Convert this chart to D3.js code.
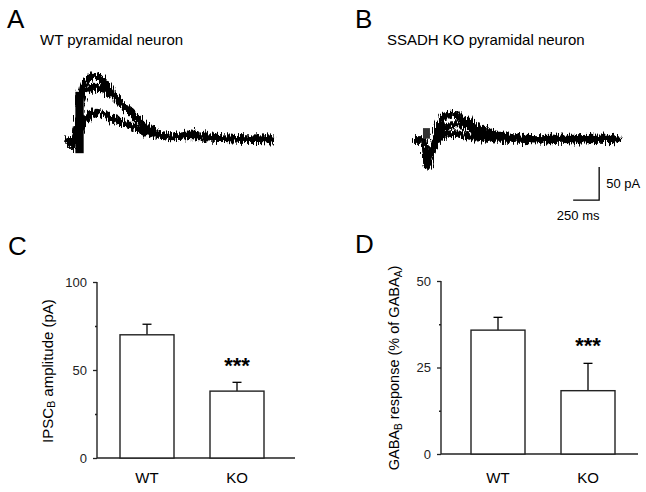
<!DOCTYPE html>
<html><head><meta charset="utf-8">
<script src="https://cdn.jsdelivr.net/npm/d3@7"></script>
<style>
body{margin:0;background:#fff}
svg{display:block;font-family:"Liberation Sans",Arial,Helvetica,sans-serif}
</style>
</head><body>
<svg id="c" width="646" height="492"></svg>
<script>
// ---------- DATA ----------
// Panel A: WT traces (time ms, current pA relative to baseline)
const timesA = [0, 40, 60, 85, 170, 230, 280, 330, 375, 420, 470, 540, 610, 680, 760, 830, 900, 1050, 1190, 1380, 1580, 1770, 2000];
const traceA1 = [0, -2, -10, 0, 83, 95, 98, 95, 86, 76, 65, 53, 44, 33, 21, 15, 9, 6, 9, 5, 3, 1.5, 1.5];
const traceA2 = [0, -2, -10, 0, 71, 79, 80, 79, 75, 71, 64, 53, 44, 33, 21, 15, 9, 5, 8, 4, 2, 1, 1];
const traceA3 = [0, -2, -10, 0, 26, 38, 42, 41, 38, 35, 31, 27, 23, 18, 12, 9, 7, 5, 7, 3, 2, 1, 0];
const artifactA = [90, 170, -20, 73];   // t start, t end, pA min, pA max

// Panel B: SSADH KO traces
const timesB = [0, 96, 110, 130, 150, 183, 212, 240, 288, 337, 375, 433, 500, 567, 625, 692, 760, 885, 1029, 1221, 1413, 1606, 1798, 2000];
const traceB1 = [0, 0, -10, -40, -36, -15, 5, 18, 33, 38, 39, 36, 30, 24, 20, 15, 11, 5, 3, 2, 3, 2, 3, 1];
const traceB2 = [0, 0, -10, -38, -33, -18, -3, 8, 17, 21, 23, 23, 22, 17, 11, 7, 5, 3, 2, 1, 2, 1, 2, 1];
const traceB3 = [0, 0, -8, -35, -30, -18, -8, 0, 6, 9, 10, 9, 7, 5, 3, 3, 2, 1, 1, 0, 1, 0, 1, 0];
const artifactB = [96, 163, 2, 18];

// Scale bar
const scaleBarPA = 50, scaleBarMS = 250;

// Panel C
const groups = ["WT", "KO"];
const ipscMean = [70, 38];
const ipscSem = [6, 5];
const ipscTicks = [0, 50, 100];
const ipscMinor = [25, 75];

// Panel D
const gabaMean = [35.8, 18.3];
const gabaSem = [3.7, 7.9];
const gabaTicks = [0, 25, 50];
const gabaMinor = [12.5, 37.5];

// ---------- DRAW ----------
const svg = d3.select("#c");
const defs = svg.append("defs");
const f = defs.append("filter").attr("id", "noise")
  .attr("filterUnits", "userSpaceOnUse").attr("x", 0).attr("y", 0).attr("width", 646).attr("height", 250);
f.append("feTurbulence").attr("type", "fractalNoise").attr("baseFrequency", "1.1 0.1")
  .attr("numOctaves", 2).attr("seed", 4).attr("result", "t");
f.append("feDisplacementMap").attr("in", "SourceGraphic").attr("in2", "t")
  .attr("scale", 12).attr("xChannelSelector", "R").attr("yChannelSelector", "G");

const black = "#000";

// panel letters
[["A", 7, 28], ["B", 355, 28], ["C", 8, 255], ["D", 355, 253]].forEach(([t, x, y]) => {
  svg.append("text").attr("x", x).attr("y", y).attr("font-size", 26).attr("fill", black).text(t);
});
svg.append("text").attr("x", 40).attr("y", 45).attr("font-size", 15).text("WT pyramidal neuron");
svg.append("text").attr("x", 387).attr("y", 45).attr("font-size", 15).text("SSADH KO pyramidal neuron");

// trace scales
const xA = d3.scaleLinear().domain([0, 2000]).range([66, 274]);
const xB = d3.scaleLinear().domain([0, 2000]).range([413, 621]);
const yT = d3.scaleLinear().domain([0, 50]).range([140, 107]);

function drawTraces(x, times, traces, art, artFill) {
  const g = svg.append("g").attr("filter", "url(#noise)");
  const line = d3.line().x((d, i) => x(times[i])).y(d => yT(d)).curve(d3.curveMonotoneX);
  traces.forEach(tr => {
    g.append("path").attr("d", line(tr)).attr("fill", "none")
      .attr("stroke", black).attr("stroke-width", 7).attr("stroke-linejoin", "round");
  });
  svg.append("rect").attr("x", x(art[0])).attr("width", x(art[1]) - x(art[0]))
    .attr("y", yT(art[3])).attr("height", yT(art[2]) - yT(art[3])).attr("fill", artFill);
}
drawTraces(xA, timesA, [traceA1, traceA2, traceA3], artifactA, black);
drawTraces(xB, timesB, [traceB1, traceB2, traceB3], artifactB, "#333");

// scale bar (corner at end of B traces)
const sbX = xB(1790), sbY = yT(-91);
svg.append("path")
  .attr("d", `M${sbX - (xB(scaleBarMS) - xB(0))},${sbY}H${sbX}V${sbY - (yT(0) - yT(scaleBarPA))}`)
  .attr("fill", "none").attr("stroke", black).attr("stroke-width", 1.3);
svg.append("text").attr("x", sbX + 7).attr("y", sbY - 12).attr("font-size", 13).text(scaleBarPA + " pA");
svg.append("text").attr("x", sbX - 21).attr("y", sbY + 20).attr("font-size", 13).attr("text-anchor", "middle").text(scaleBarMS + " ms");

// bar panels
function barPanel(opt) {
  const y = d3.scaleLinear().domain(opt.domain).range([opt.y0, opt.y1]);
  const x = d3.scaleBand().domain(groups).range([opt.bx0, opt.bx1]).paddingInner(0.4).paddingOuter(0);
  const g = svg.append("g");
  const minor = g.append("g").attr("transform", `translate(${opt.ax},0)`)
    .call(d3.axisLeft(y).tickValues(opt.minor).tickSize(2).tickFormat(""));
  minor.select(".domain").remove();
  const major = g.append("g").attr("transform", `translate(${opt.ax},0)`)
    .call(d3.axisLeft(y).tickValues(opt.ticks).tickSize(4).tickPadding(6));
  major.select(".domain").remove();
  g.selectAll(".tick line").attr("stroke", "#222").attr("stroke-width", 1.3);
  major.selectAll("text").attr("font-size", 13).attr("fill", "#222")
    .attr("font-family", '"Liberation Sans",Arial,sans-serif');
  g.append("line").attr("x1", opt.ax).attr("x2", opt.ax).attr("y1", y(opt.domain[0])).attr("y2", y(opt.domain[1]))
    .attr("stroke", "#222").attr("stroke-width", 1.4);
  g.append("line").attr("x1", opt.ax).attr("x2", opt.axEnd).attr("y1", y(0)).attr("y2", y(0))
    .attr("stroke", "#222").attr("stroke-width", 1.4);
  groups.forEach((k, i) => {
    const cx = x(k) + x.bandwidth() / 2;
    const top = y(opt.mean[i] + opt.sem[i]);
    g.append("line").attr("x1", cx).attr("x2", cx).attr("y1", y(opt.mean[i])).attr("y2", top)
      .attr("stroke", black).attr("stroke-width", 1.3);
    g.append("line").attr("x1", cx - 4.5).attr("x2", cx + 4.5).attr("y1", top).attr("y2", top)
      .attr("stroke", black).attr("stroke-width", 1.3);
  });
  g.selectAll("rect.bar").data(groups).enter().append("rect").attr("class", "bar")
    .attr("x", d => x(d)).attr("width", x.bandwidth())
    .attr("y", (d, i) => y(opt.mean[i])).attr("height", (d, i) => y(0) - y(opt.mean[i]))
    .attr("fill", "#fff").attr("stroke", "#222").attr("stroke-width", 1.4);
  groups.forEach(k => {
    g.append("text").attr("x", x(k) + x.bandwidth() / 2).attr("y", 483).attr("text-anchor", "middle")
      .attr("font-size", 15).text(k);
  });
  g.append("text").attr("x", x("KO") + x.bandwidth() / 2).attr("y", y(opt.mean[1] + opt.sem[1]) + opt.starDy)
    .attr("text-anchor", "middle").attr("font-size", 22).attr("font-weight", "bold").text("***");
  const t = g.append("text").attr("transform", `translate(${opt.lx},${opt.ly}) rotate(-90)`)
    .attr("text-anchor", "middle").attr("dominant-baseline", "central").attr("font-size", opt.lfs);
  opt.label.forEach(([s, sub]) => {
    if (sub) t.append("tspan").attr("font-size", opt.lfs * 0.7).attr("dy", 4).text(s);
    else t.append("tspan").attr("dy", t.selectAll("tspan").size() ? -4 : 0).text(s);
  });
}

barPanel({
  domain: [0, 100], y0: 458, y1: 282, ax: 97, axEnd: 295, bx0: 120, bx1: 264,
  ticks: ipscTicks, minor: ipscMinor, mean: ipscMean, sem: ipscSem, starDy: -9,
  lx: 51, ly: 371, lfs: 15,
  label: [["IPSC"], ["B", true], [" amplitude (pA)"]]
});
barPanel({
  domain: [0, 50], y0: 454, y1: 281, ax: 441, axEnd: 638, bx0: 471, bx1: 615,
  ticks: gabaTicks, minor: gabaMinor, mean: gabaMean, sem: gabaSem, starDy: -10,
  lx: 398, ly: 368, lfs: 14.5,
  label: [["GABA"], ["B", true], [" response (% of GABA"], ["A", true], [")"]]
});
</script>
</body></html>
